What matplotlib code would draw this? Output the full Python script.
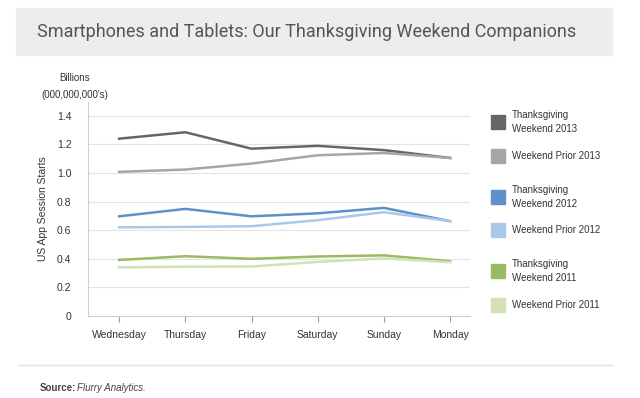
import matplotlib
matplotlib.use('Agg')
import matplotlib.pyplot as plt
from matplotlib.patches import Rectangle

plt.rcParams['font.family'] = ['Liberation Sans', 'DejaVu Sans']

days = ['Wednesday', 'Thursday', 'Friday', 'Saturday', 'Sunday', 'Monday']
tw_2013 = [1.24, 1.285, 1.17, 1.19, 1.16, 1.105]
wp_2013 = [1.008, 1.024, 1.066, 1.124, 1.14, 1.105]
tw_2012 = [0.697, 0.749, 0.697, 0.718, 0.756, 0.663]
wp_2012 = [0.62, 0.623, 0.628, 0.67, 0.726, 0.663]
tw_2011 = [0.392, 0.418, 0.4, 0.416, 0.424, 0.383]
wp_2011 = [0.34, 0.345, 0.346, 0.378, 0.403, 0.376]

series = [tw_2013, wp_2013, tw_2012, wp_2012, tw_2011, wp_2011]
labels = ['Thanksgiving\nWeekend 2013', 'Weekend Prior 2013',
          'Thanksgiving\nWeekend 2012', 'Weekend Prior 2012',
          'Thanksgiving\nWeekend 2011', 'Weekend Prior 2011']
colors = ['#666666', '#a6a6a6', '#5f90c8', '#a9c9e9', '#9bbb62', '#d2e2b6']
yticks = [0, 0.2, 0.4, 0.6, 0.8, 1.0, 1.2, 1.4]
ytick_labels = ['0', '0.2', '0.4', '0.6', '0.8', '1.0', '1.2', '1.4']

W, H = 640, 398
fig = plt.figure(figsize=(6.4, 3.98), dpi=100)
fig.patch.set_facecolor('white')

# title band
fig.patches.append(Rectangle((16 / W, 1 - 55 / H), 596 / W, 47 / H,
                             transform=fig.transFigure, color='#ededed', zorder=0))
fig.text(37 / W, 1 - 32 / H, 'Smartphones and Tablets: Our Thanksgiving Weekend Companions',
         fontsize=13, family=['Roboto', 'DejaVu Sans'], color='#555555',
         va='center', ha='left')

ax = fig.add_axes([88 / W, 1 - 316 / H, 382 / W, 214.5 / H])
x = list(range(len(days)))
for s, c in zip(series, colors):
    ax.plot(x, s, color=c, lw=1.8, solid_joinstyle='round')

ax.set_xlim(-0.47, 5.3)
ax.set_ylim(0, 1.5)
ax.set_yticks(yticks)
ax.set_yticklabels(ytick_labels)
ax.set_xticks(x)
ax.set_xticklabels(days)
ax.tick_params(axis='y', length=0, labelsize=7.5, labelcolor='#333333', pad=12)
ax.tick_params(axis='x', length=4, color='#999999', labelsize=7.5, labelcolor='#333333', pad=6)
ax.grid(axis='y', color='#e4e4e4', lw=0.8)
ax.set_axisbelow(True)
for sp in ['top', 'right']:
    ax.spines[sp].set_visible(False)
for sp in ['left', 'bottom']:
    ax.spines[sp].set_color('#cfcfcf')
    ax.spines[sp].set_linewidth(0.8)

ax.set_ylabel('US App Session Starts', fontsize=7.5, color='#333333', labelpad=6)
fig.text(75 / W, 1 - 78 / H, 'Billions', fontsize=7, color='#333333', ha='center', va='center')
fig.text(75 / W, 1 - 95 / H, "(000,000,000's)", fontsize=7, color='#333333', ha='center', va='center')

# legend
box_tops = [115, 149, 190, 223, 264, 298]
for top, lab, c in zip(box_tops, labels, colors):
    fig.patches.append(Rectangle((491 / W, 1 - (top + 14) / H), 14 / W, 14 / H,
                                 transform=fig.transFigure, color=c))
    fig.text(512 / W, 1 - (top + 7) / H, lab, fontsize=7, color='#333333',
             va='center', ha='left', linespacing=1.45)

# footer
fig.add_artist(plt.Line2D([18 / W, 612 / W], [1 - 365 / H, 1 - 365 / H],
                          transform=fig.transFigure, color='#e0e0e0', lw=1))
fig.text(40 / W, 1 - 388 / H, 'Source:', fontsize=7, fontweight='bold', color='#444444',
         va='center', ha='left')
fig.text(77 / W, 1 - 388 / H, 'Flurry Analytics.', fontsize=7, style='italic', color='#444444',
         va='center', ha='left')

fig.savefig('out.png', dpi=100)
